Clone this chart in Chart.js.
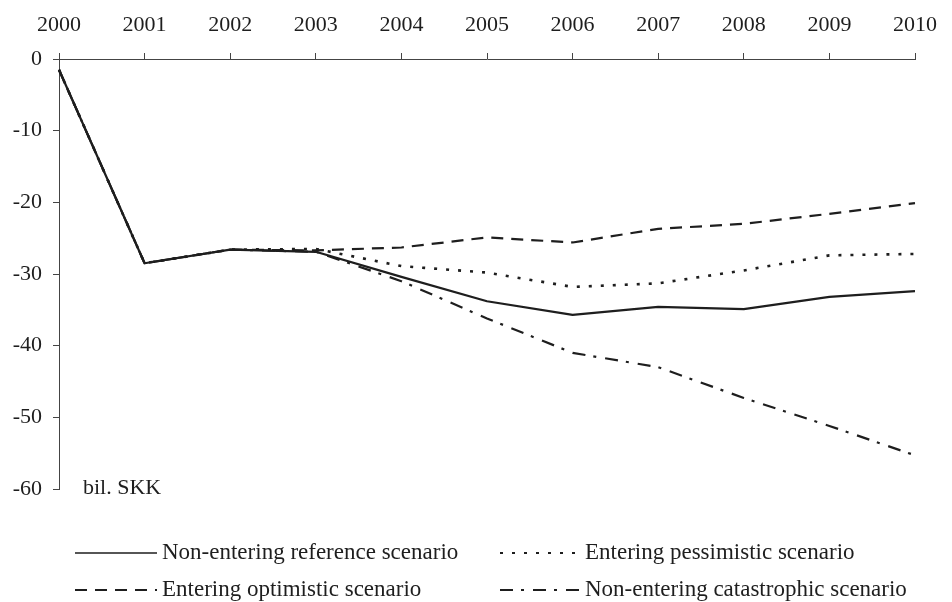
<!DOCTYPE html>
<html>
<head>
<meta charset="utf-8">
<script src="https://cdn.jsdelivr.net/npm/chart.js@4/dist/chart.umd.min.js"></script>
<style>
  html, body { margin: 0; padding: 0; background: #ffffff; }
  #wrap { width: 952px; height: 602px; }
</style>
</head>
<body>
<div id="wrap"><canvas id="c" width="952" height="602"></canvas></div>
<script>
// Years on the horizontal axis
const years = ['2000', '2001', '2002', '2003', '2004', '2005', '2006', '2007', '2008', '2009', '2010'];

// Balance by scenario, bil. SKK
const referenceScenario    = [-1.5, -28.5, -26.6, -26.9, -30.4, -33.8, -35.7, -34.6, -34.9, -33.2, -32.4];
const pessimisticScenario  = [-1.5, -28.5, -26.6, -26.5, -28.9, -29.8, -31.8, -31.3, -29.5, -27.4, -27.2];
const optimisticScenario   = [-1.5, -28.5, -26.6, -26.7, -26.3, -24.9, -25.6, -23.7, -23.0, -21.6, -20.1];
const catastrophicScenario = [-1.5, -28.5, -26.6, -26.9, -31.0, -36.2, -41.0, -43.0, -47.3, -51.2, -55.3];

// Series names, in legend order (row by row, two columns)
const seriesNames = [
  'Non-entering reference scenario',
  'Entering pessimistic scenario',
  'Entering optimistic scenario',
  'Non-entering catastrophic scenario'
];

// Value axis range and step
const yMin = -60;
const yMax = 0;
const yStep = 10;
const unitLabel = 'bil. SKK';

const FONT = 'Liberation Serif';
const INK = '#1e1e1e';

// Two-column legend under the plot plus the unit note inside the plot
const scenarioLegend = {
  id: 'scenarioLegend',
  afterDraw(chart) {
    const ctx = chart.ctx;
    const area = chart.chartArea;
    ctx.save();
    ctx.fillStyle = INK;
    ctx.font = '22px "' + FONT + '"';
    ctx.textBaseline = 'middle';
    ctx.textAlign = 'left';
    ctx.fillText(unitLabel, area.left + 24, area.bottom - 1);

    const colX = [75, 500];
    const sampleLen = [82, 80];
    const rowY = [553, 590];
    ctx.font = '23px "' + FONT + '"';
    chart.data.datasets.forEach((ds, i) => {
      const col = i % 2;
      const row = Math.floor(i / 2);
      const x0 = colX[col];
      const y = rowY[row];
      ctx.save();
      ctx.strokeStyle = ds.borderColor;
      ctx.lineWidth = ds.legendWidth || ds.borderWidth;
      ctx.setLineDash(ds.borderDash || []);
      ctx.lineCap = 'butt';
      ctx.beginPath();
      ctx.moveTo(x0, y);
      ctx.lineTo(x0 + sampleLen[col], y);
      ctx.stroke();
      ctx.restore();
      ctx.fillText(ds.label, x0 + sampleLen[col] + 5, y);
    });
    ctx.restore();
  }
};

const datasets = [
  { label: seriesNames[0], data: referenceScenario,    borderDash: [],              borderWidth: 2.2, legendWidth: 1.6 },
  { label: seriesNames[1], data: pessimisticScenario,  borderDash: [3, 9],          borderWidth: 2.6, legendWidth: 2 },
  { label: seriesNames[2], data: optimisticScenario,   borderDash: [12, 8],         borderWidth: 2.2, legendWidth: 2 },
  { label: seriesNames[3], data: catastrophicScenario, borderDash: [13, 8, 3, 9],   borderWidth: 2.2, legendWidth: 2 }
].map(d => Object.assign(d, { borderColor: INK, backgroundColor: INK, fill: false }));

// Draw the solid line on top of the others
datasets[0].order = -1;

new Chart(document.getElementById('c'), {
  type: 'line',
  data: { labels: years, datasets: datasets },
  options: {
    responsive: false,
    animation: false,
    devicePixelRatio: 1,
    layout: { padding: { left: 0, top: 0, right: 25, bottom: 113 } },
    elements: {
      point: { radius: 0, hoverRadius: 0 },
      line: { tension: 0, borderCapStyle: 'butt', borderJoinStyle: 'round' }
    },
    plugins: {
      legend: { display: false },
      tooltip: { enabled: false }
    },
    scales: {
      x: {
        position: 'top',
        offset: false,
        grid: { drawOnChartArea: false, drawTicks: true, tickLength: 6, color: '#444', lineWidth: 1 },
        border: { display: true, color: '#444', width: 1 },
        ticks: {
          color: INK,
          font: { family: FONT, size: 22 },
          padding: 15,
          maxRotation: 0,
          autoSkip: false
        },
        afterFit(scale) { scale.height = 59; }
      },
      y: {
        min: yMin,
        max: yMax,
        grid: { drawOnChartArea: false, drawTicks: true, tickLength: 6, color: '#444', lineWidth: 1 },
        border: { display: true, color: '#444', width: 1 },
        ticks: {
          stepSize: yStep,
          color: INK,
          font: { family: FONT, size: 22 },
          padding: 11
        },
        afterFit(scale) { scale.width = 59; }
      }
    }
  },
  plugins: [scenarioLegend]
});
</script>
</body>
</html>
